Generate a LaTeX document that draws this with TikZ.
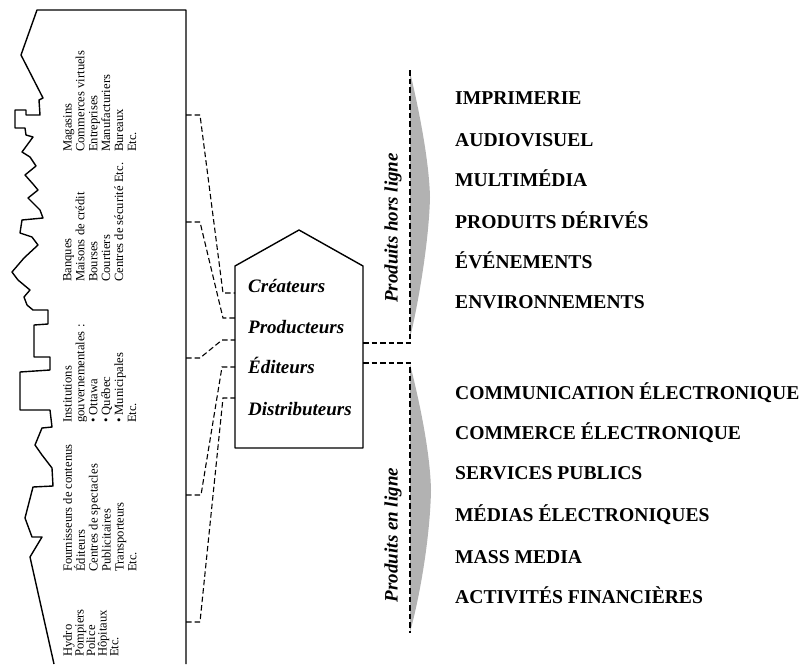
\documentclass[tikz,border=0pt]{standalone}
\usepackage{fontspec}
\setmainfont{Liberation Serif}
\begin{document}
\begin{tikzpicture}[x=1pt,y=-1pt,
  outl/.style={line width=1.4pt, line join=round},
  dashc/.style={dash pattern=on 5.5pt off 3pt, line width=1.1pt},
  grp/.style={rotate=90, anchor=north west, inner sep=0pt, align=left, font=\fontsize{12.6}{12.9}\selectfont},
  grpb/.style={grp, font=\fontsize{12.6}{11.6}\selectfont},
  role/.style={anchor=base west, inner sep=0pt, font=\fontsize{19}{19}\selectfont\bfseries\itshape},
  prod/.style={anchor=base west, inner sep=0pt, font=\fontsize{19.6}{19.6}\selectfont\bfseries},
  side/.style={rotate=90, inner sep=0pt, font=\fontsize{19}{19}\selectfont\bfseries\itshape},
  arrowfill/.style={fill=gray!60, draw=none}]

\useasboundingbox (0,0) rectangle (802,664);

% city outline
\draw[outl] (54,664) -- (30,557) -- (42,537) -- (32,537) -- (25,518) -- (33,487)
  -- (53,486) -- (52,468) -- (42,455) -- (35,445) -- (42,428) -- (52,427) -- (50,410)
  -- (20,410) -- (20,372) -- (50,370) -- (50,357) -- (34,357) -- (34,325) -- (48,324)
  -- (48,310) -- (33,310) -- (27,305) -- (24,297) -- (30,290) -- (24,285) -- (18,280)
  -- (12,272) -- (24,258) -- (38,245) -- (32,237) -- (20,233) -- (22,220) -- (43,218)
  -- (40,210) -- (28,198) -- (38,190) -- (33,184) -- (25,175) -- (36,166) -- (30,157)
  -- (22,152) -- (33,137) -- (26,135) -- (25,128) -- (15,128) -- (15,110) -- (26,110)
  -- (26,115) -- (40,115) -- (39,100) -- (43,98) -- (21,55) -- (37,10) -- (186,10) -- (186,664);

% sector lists
\node[grp] (g1) at (63,152) {Magasins\\Commerces virtuels\\Entreprises\\Manufacturiers\\Bureaux\\Etc.};
\node[grp] (g2) at (63,282) {Banques\\Maisons de crédit\\Bourses\\Courtiers\\Centres de sécurité Etc.};
\node[grp] (g3) at (63,423) {Institutions\\gouvernementales :\\• Ottawa\\• Québec\\• Municipales\\Etc.};
\node[grp] (g4) at (63,572) {Fournisseurs de contenus\\Éditeurs\\Centres de spectacles\\Publicitaires\\Transporteurs\\Etc.};
\node[grpb] (g5) at (63,657) {Hydro\\Pompiers\\Police\\Hôpitaux\\Etc.};

% house
\draw[outl] (235,448) -- (235,266) -- (299,230) -- (363,266) -- (363,448) -- cycle;
\node[role] (cre) at (248,292) {Créateurs};
\node[role] (pro) at (248,333) {Producteurs};
\node[role] (edi) at (248,373) {Éditeurs};
\node[role] (dis) at (248,415) {Distributeurs};

% connection points
\coordinate (o1) at (186,115);
\coordinate (o2) at (186,222);
\coordinate (o3) at (186,358);
\coordinate (o4) at (186,495);
\coordinate (o5) at (186,622);
\coordinate (h1) at (235,293);
\coordinate (h2) at (235,318);
\coordinate (h3) at (235,340);
\coordinate (h4) at (235,367);
\coordinate (h5) at (235,398);
\coordinate (r1) at (363,343);
\coordinate (r2) at (363,363);
\coordinate (top) at (410,70);
\coordinate (bot) at (410,633);

% arrows
\fill[arrowfill] (410,72) .. controls (419,110) and (429,160) .. (430,197)
  .. controls (429,240) and (419,300) .. (410,338) -- cycle;
\fill[arrowfill] (410,364) .. controls (419,400) and (430,450) .. (431,490)
  .. controls (430,540) and (419,600) .. (410,632) -- cycle;

% dashed connectors
\draw[dashc] (o1) -- ++(14,0) -- ([xshift=-12pt]h1) -- (h1);
\draw[dashc] (o2) -- ++(14,0) -- ([xshift=-12pt]h2) -- (h2);
\draw[dashc] (o3) -- ++(14,0) -- ([xshift=-13pt]h3) -- (h3);
\draw[dashc] (o4) -- ++(15,0) -- ([xshift=-13pt]h4) -- (h4);
\draw[dashc] (o5) -- ++(14,0) -- ([xshift=-12pt]h5) -- (h5);
\draw[dashc] (r1) -- (r1 -| top) -- (top);
\draw[dashc] (r2) -- (r2 -| bot) -- (bot);

% side labels
\node[side] (hors) at (393,228) {Produits hors ligne};
\node[side] (enl) at (393,535) {Produits en ligne};

% products
\node[prod] (p1) at (455,104.5) {IMPRIMERIE};
\node[prod] (p2) at (455,146.5) {AUDIOVISUEL};
\node[prod] (p3) at (455,186.5) {MULTIMÉDIA};
\node[prod] (p4) at (455,228.5) {PRODUITS DÉRIVÉS};
\node[prod] (p5) at (455,268.5) {ÉVÉNEMENTS};
\node[prod] (p6) at (455,308.5) {ENVIRONNEMENTS};
\node[prod] (q1) at (455,399.5) {COMMUNICATION ÉLECTRONIQUE};
\node[prod] (q2) at (455,439.5) {COMMERCE ÉLECTRONIQUE};
\node[prod] (q3) at (455,479.5) {SERVICES PUBLICS};
\node[prod] (q4) at (455,521.5) {MÉDIAS ÉLECTRONIQUES};
\node[prod] (q5) at (455,563.5) {MASS MEDIA};
\node[prod] (q6) at (455,603.5) {ACTIVITÉS FINANCIÈRES};
\end{tikzpicture}
\end{document}
